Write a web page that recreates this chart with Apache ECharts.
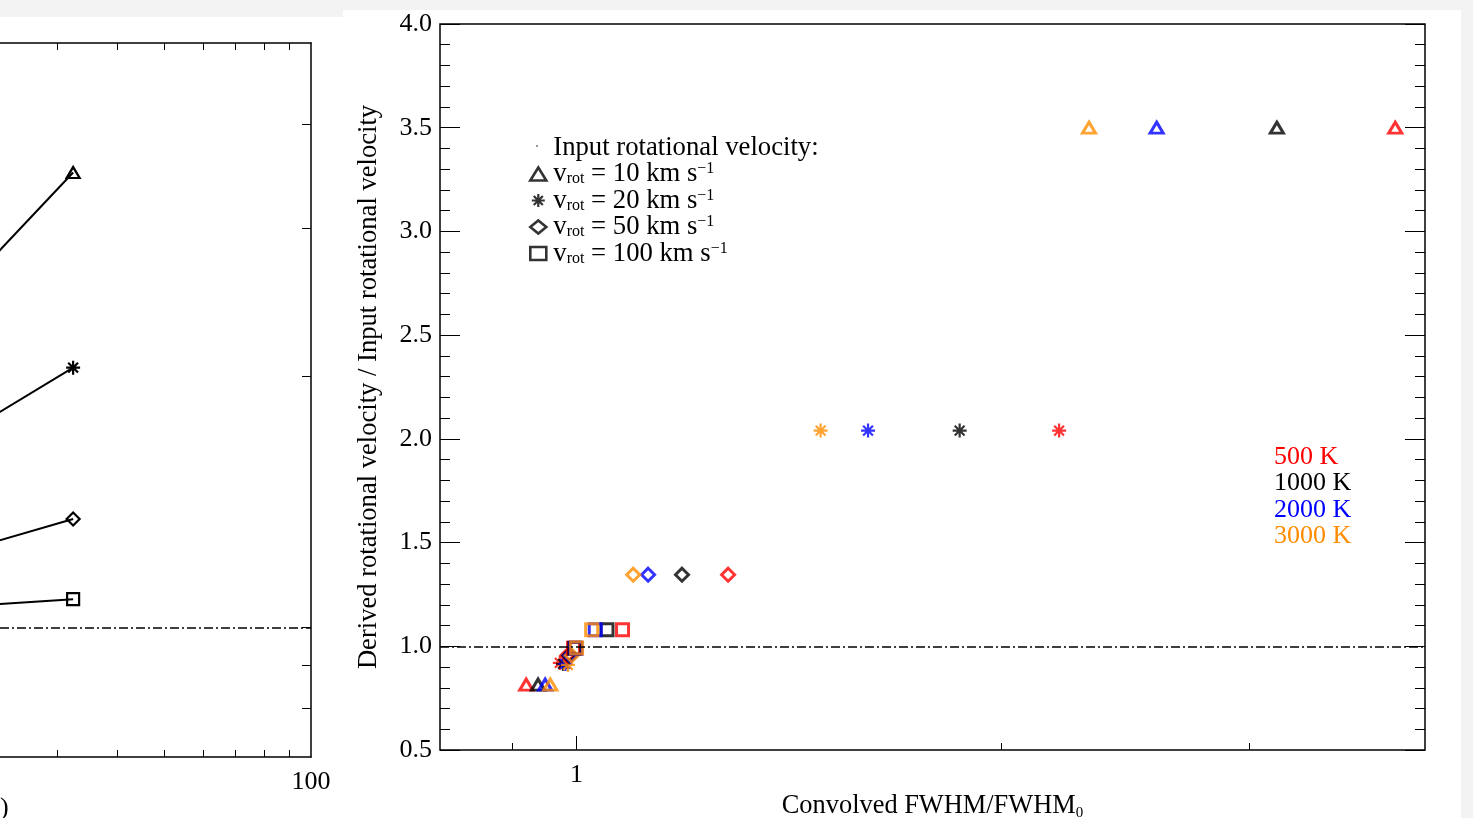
<!DOCTYPE html>
<html><head><meta charset="utf-8">
<script src="https://cdn.jsdelivr.net/npm/echarts@6/dist/echarts.min.js"></script>
<style>html,body{margin:0;padding:0;background:#f3f3f3}#c{width:1473px;height:818px}</style>
</head><body><div id="c"></div>
<script>
// ---------------- data ----------------
const temperatures = ['500 K', '1000 K', '2000 K', '3000 K'];
const tempColors = ['#ff0000', '#000000', '#0000ff', '#ff8c00'];
const vrotValues = ['10', '20', '50', '100'];

// Right panel: convolved FWHM / FWHM0 (x) and derived / input vrot (y), order 500,1000,2000,3000 K
const fwhmA10 = [3.81, 3.14, 2.58, 2.31];
const ratioA10 = [3.50, 3.50, 3.50, 3.50];
const fwhmA20 = [2.20, 1.87, 1.61, 1.49];
const ratioA20 = [2.04, 2.04, 2.04, 2.04];
const fwhmA50 = [1.281, 1.188, 1.124, 1.097];
const ratioA50 = [1.345, 1.345, 1.345, 1.345];
const fwhmA100 = [1.078, 1.051, 1.031, 1.025];
const ratioA100 = [1.08, 1.08, 1.08, 1.08];
// second (low) group of points
const fwhmB10 = [0.921, 0.939, 0.950, 0.958];
const ratioB10 = [0.815, 0.815, 0.815, 0.815];
const fwhmB20 = [0.973, 0.978, 0.982, 0.986];
const ratioB20 = [0.92, 0.915, 0.915, 0.91];
const fwhmB50 = [0.985, 0.988, 0.990, 0.992];
const ratioB50 = [0.955, 0.955, 0.955, 0.955];
const fwhmB100 = [0.995, 0.997, 0.999, 1.000];
const ratioB100 = [0.99, 0.99, 0.99, 0.992];

// Left panel (partially visible)
const leftX = [20, 32.4];
const leftY10 = [2.60, 3.50];
const leftY20 = [1.726, 2.045];
const leftY50 = [1.243, 1.348];
const leftY100 = [1.061, 1.081];

// ticks
const rightXMajorTicks = [1];
const rightXMinorTicks = [0.9, 2, 3];
const leftXTicks = [30, 40, 50, 60, 70, 80, 90];
const leftXLabels = [100];
const leftYTicks = [0.8, 0.9, 1, 2, 3, 4];

// ---------------- helpers ----------------
const FONT = '"Liberation Serif", "Times New Roman", serif';
const lg = Math.log10;
const ASTERISK = 'path://M6,0L6,12M0,6L12,6M1.8,1.8L10.2,10.2M10.2,1.8L1.8,10.2';
const fmtPow = v => String(Math.round(Math.pow(10, v) * 1000) / 1000);

function pts(xsA, ysA, xsB, ysB) {
  const out = [];
  xsA.forEach((x, i) => out.push({ value: [lg(x), ysA[i]], itemStyle: { borderColor: tempColors[i] } }));
  xsB.forEach((x, i) => out.push({ value: [lg(x), ysB[i]], itemStyle: { borderColor: tempColors[i] } }));
  return out;
}
const seriesName = v => 'vrot = ' + v + ' km s-1';
const HEADER = 'Input rotational velocity:';

const rightSeriesDefs = [
  { v: '10', symbol: 'triangle', size: [13, 11], bw: 3, data: pts(fwhmA10, ratioA10, fwhmB10, ratioB10) },
  { v: '20', symbol: ASTERISK, size: [14, 14], bw: 2.2, data: pts(fwhmA20, ratioA20, fwhmB20, ratioB20) },
  { v: '50', symbol: 'diamond', size: [13, 13], bw: 3, data: pts(fwhmA50, ratioA50, fwhmB50, ratioB50) },
  { v: '100', symbol: 'rect', size: [12, 12], bw: 3, data: pts(fwhmA100, ratioA100, fwhmB100, ratioB100) }
];
const leftYs = [leftY10, leftY20, leftY50, leftY100];

const dashDot = { color: '#000', width: 1.6, type: [9, 3, 2, 3] };

const series = [];
series.push({ name: HEADER, type: 'scatter', data: [], xAxisIndex: 0, yAxisIndex: 0 });
rightSeriesDefs.forEach((d, k) => {
  const s = {
    name: seriesName(d.v), type: 'scatter', xAxisIndex: 0, yAxisIndex: 0,
    symbol: d.symbol, symbolSize: d.size,
    itemStyle: { color: 'rgba(0,0,0,0)', borderColor: '#000', borderWidth: d.bw },
    emphasis: { disabled: true }, data: d.data, z: 3
  };
  if (k === 0) {
    s.markLine = { silent: true, symbol: 'none', label: { show: false }, lineStyle: dashDot,
      emphasis: { disabled: true }, data: [{ yAxis: 1 }] };
  }
  series.push(s);
});
leftYs.forEach((ys, k) => {
  const d = rightSeriesDefs[k];
  const s = {
    name: 'left ' + d.v, type: 'line', xAxisIndex: 2, yAxisIndex: 2,
    symbol: d.symbol, symbolSize: d.size, showAllSymbol: true, clip: true,
    itemStyle: { color: 'rgba(0,0,0,0)', borderColor: '#000', borderWidth: 2.2 },
    lineStyle: { color: '#000', width: 2 },
    emphasis: { disabled: true },
    data: leftX.map((x, i) => [lg(x), lg(ys[i])])
  };
  if (k === 0) {
    s.markLine = { silent: true, symbol: 'none', label: { show: false }, lineStyle: dashDot,
      emphasis: { disabled: true }, data: [{ yAxis: 0 }] };
  }
  series.push(s);
});

const legendRich = {
  m: { fontSize: 26.7, fontFamily: FONT, color: '#000', lineHeight: 26 },
  s: { fontSize: 16, fontFamily: FONT, color: '#000', lineHeight: 10, verticalAlign: 'bottom' },
  p: { fontSize: 16, fontFamily: FONT, color: '#000', lineHeight: 16, verticalAlign: 'top' }
};

// left panel: 486 px per decade, right edge (x = 100) at 311 px from the left border
const leftXMin = 2 - 311 / 486;

const option = {
  backgroundColor: '#f3f3f3',
  animation: false,
  textStyle: { fontFamily: FONT },
  grid: [
    { left: 440, right: 48, top: 24, bottom: 68, show: true, borderColor: '#000', borderWidth: 1.5,
      backgroundColor: 'rgba(0,0,0,0)', containLabel: false, outerBoundsMode: 'none' },
    { left: 0, right: 1162, top: 43, bottom: 61, show: false, containLabel: false, outerBoundsMode: 'none' }
  ],
  xAxis: [
    { gridIndex: 0, type: 'value', position: 'bottom', min: lg(0.8), max: lg(4),
      axisLine: { show: false, onZero: false }, splitLine: { show: false },
      axisTick: { inside: true, length: 14, customValues: rightXMajorTicks.map(lg), lineStyle: { color: '#000' } },
      axisLabel: { customValues: rightXMajorTicks.map(lg), formatter: fmtPow, fontSize: 26, fontFamily: FONT, color: '#000', margin: 12 },
      name: '{m|Convolved FWHM/FWHM}{s|0}', nameLocation: 'middle', nameGap: 40,
      nameTextStyle: { fontSize: 26.4, fontFamily: FONT, color: '#000',
        rich: {
          m: { fontSize: 26.4, fontFamily: FONT, color: '#000', lineHeight: 30, verticalAlign: 'middle' },
          s: { fontSize: 15, fontFamily: FONT, color: '#000', lineHeight: 8, verticalAlign: 'bottom' }
        } } },
    { gridIndex: 0, type: 'value', position: 'bottom', min: lg(0.8), max: lg(4),
      axisLine: { show: false, onZero: false }, splitLine: { show: false },
      axisTick: { inside: true, length: 7, customValues: rightXMinorTicks.map(lg), lineStyle: { color: '#000' } },
      axisLabel: { show: false } },
    { gridIndex: 1, type: 'value', position: 'bottom', min: leftXMin, max: 2,
      axisLine: { show: true, onZero: false, lineStyle: { color: '#000', width: 1.5 } }, splitLine: { show: false },
      axisTick: { inside: true, length: 7, customValues: leftXTicks.map(lg), lineStyle: { color: '#000' } },
      axisLabel: { customValues: leftXLabels.map(lg), formatter: fmtPow, fontSize: 26, fontFamily: FONT, color: '#000', margin: 12 } },
    { gridIndex: 1, type: 'value', position: 'top', min: leftXMin, max: 2,
      axisLine: { show: true, onZero: false, lineStyle: { color: '#000', width: 1.5 } }, splitLine: { show: false },
      axisTick: { inside: true, length: 7, customValues: leftXTicks.map(lg), lineStyle: { color: '#000' } },
      axisLabel: { show: false } }
  ],
  yAxis: [
    { gridIndex: 0, type: 'value', position: 'left', min: 0.5, max: 4, interval: 0.5,
      axisLine: { show: false, onZero: false }, splitLine: { show: false },
      axisTick: { inside: true, length: 20, lineStyle: { color: '#000' } },
      minorTick: { show: true, splitNumber: 5, length: 10, lineStyle: { color: '#000' } },
      axisLabel: { formatter: v => v.toFixed(1), fontSize: 26, fontFamily: FONT, color: '#000', margin: 8 },
      name: 'Derived rotational velocity / Input rotational velocity', nameLocation: 'middle', nameGap: 57,
      nameTextStyle: { fontSize: 26.6, fontFamily: FONT, color: '#000' } },
    { gridIndex: 0, type: 'value', position: 'right', min: 0.5, max: 4, interval: 0.5,
      axisLine: { show: false, onZero: false }, splitLine: { show: false },
      axisTick: { inside: true, length: 20, lineStyle: { color: '#000' } },
      minorTick: { show: true, splitNumber: 5, length: 10, lineStyle: { color: '#000' } },
      axisLabel: { show: false } },
    { gridIndex: 1, type: 'value', position: 'right', min: lg(0.7), max: lg(5),
      axisLine: { show: true, onZero: false, lineStyle: { color: '#000', width: 1.5 } }, splitLine: { show: false },
      axisTick: { inside: true, length: 9, customValues: leftYTicks.map(lg), lineStyle: { color: '#000' } },
      axisLabel: { show: false } }
  ],
  legend: {
    orient: 'vertical', left: 529, top: 134, itemWidth: 16, itemHeight: 13, itemGap: -0.5,
    selectedMode: false, padding: 0,
    textStyle: { fontSize: 26.7, fontFamily: FONT, color: '#000', rich: legendRich, padding: [0, 0, 0, 2] },
    formatter: name => {
      if (name === HEADER) return '{m|' + HEADER + '}';
      const v = name.split(' ')[2];
      return '{m|v}{s|rot}{m| = ' + v + ' km s}{p|\u22121}';
    },
    data: [{ name: HEADER, icon: 'none' }].concat(rightSeriesDefs.map(d => ({
      name: seriesName(d.v), icon: d.symbol,
      itemStyle: { color: 'rgba(0,0,0,0)', borderColor: '#000', borderWidth: d.symbol === ASTERISK ? 2.2 : 2.6 }
    })))
  },
  graphic: { elements: [
    { type: 'rect', z: -10, shape: { x: 0, y: 17, width: 343, height: 801 }, style: { fill: '#fff' }, silent: true },
    { type: 'rect', z: -10, shape: { x: 343, y: 10, width: 1118, height: 808 }, style: { fill: '#fff' }, silent: true },
    { type: 'circle', z: 10, shape: { cx: 537, cy: 146, r: 0.9 }, style: { fill: '#666' }, silent: true },
    { type: 'text', z: 10, x: 0, y: 808, style: { text: ')', fontSize: 26, fontFamily: FONT, fill: '#000', verticalAlign: 'middle' } }
  ].concat(temperatures.map((t, i) => ({
    type: 'text', z: 10, x: 1274, y: 457 + i * 26.4,
    style: { text: t, fontSize: 26, fontFamily: FONT, fill: tempColors[i], verticalAlign: 'middle' }
  }))) },
  series: series
};

const chart = echarts.init(document.getElementById('c'), null, { renderer: 'canvas' });
chart.setOption(option);
</script>
</body></html>
